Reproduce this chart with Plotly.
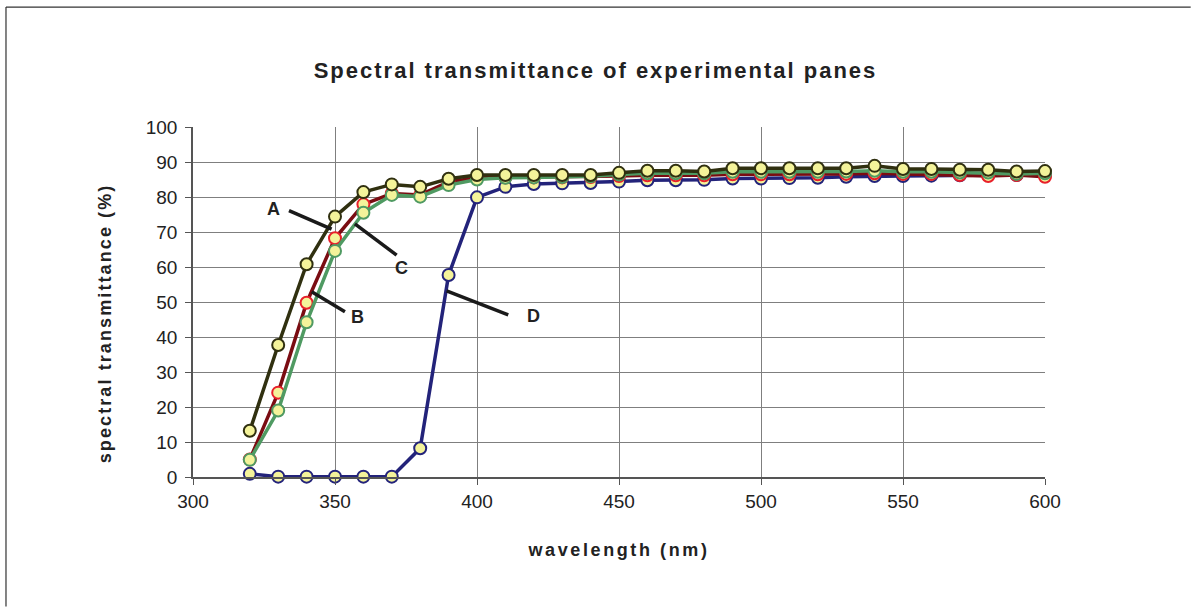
import plotly.graph_objects as go

# Wavelength grid (nm)
wavelength = [320, 330, 340, 350, 360, 370, 380, 390, 400, 410, 420, 430, 440, 450,
              460, 470, 480, 490, 500, 510, 520, 530, 540, 550, 560, 570, 580, 590, 600]

# Spectral transmittance (%) of each pane
pane_a = [13.2, 37.7, 60.8, 74.4, 81.4, 83.6, 82.9, 85.2, 86.3, 86.3, 86.3, 86.3, 86.3, 86.9,
          87.5, 87.5, 87.3, 88.2, 88.2, 88.2, 88.2, 88.2, 88.9, 88.0, 88.0, 87.8, 87.8, 87.3, 87.4]
pane_b = [5.0, 24.1, 49.8, 68.2, 77.9, 81.0, 80.6, 84.3, 85.5, 85.6, 85.6, 85.6, 85.7, 86.0,
          86.2, 86.2, 86.2, 86.5, 86.5, 86.5, 86.5, 86.6, 86.8, 86.6, 86.6, 86.3, 86.0, 86.3, 85.8]
pane_c = [4.9, 19.0, 44.2, 64.6, 75.5, 80.6, 80.1, 83.4, 85.0, 85.5, 85.6, 85.7, 85.9, 86.4,
          86.8, 86.8, 86.8, 87.2, 87.2, 87.2, 87.2, 87.3, 87.5, 87.2, 87.2, 87.0, 87.0, 86.6, 86.8]
pane_d = [0.9, 0.1, 0.1, 0.1, 0.1, 0.1, 8.2, 57.7, 79.9, 82.9, 83.7, 83.9, 84.0, 84.4,
          84.8, 84.8, 84.9, 85.3, 85.3, 85.4, 85.5, 85.8, 86.0, 86.0, 86.1, 86.2, 86.3, 86.3, 86.4]

series = [
    ("D", pane_d, "#23237a", "#23237a", 3.5),
    ("B", pane_b, "#7a0c12", "#e8202a", 3.5),
    ("C", pane_c, "#4f9a62", "#4f9a62", 3.5),
    ("A", pane_a, "#303010", "#303010", 3.5),
]

MARKER_FILL = "#f4f39a"
FONT = "Liberation Sans, Arial, sans-serif"
TEXT = "#222222"

fig = go.Figure()
for name, values, line_color, edge_color, width in series:
    fig.add_trace(go.Scatter(
        x=wavelength, y=values, name=name, mode="lines+markers",
        line=dict(color=line_color, width=width),
        marker=dict(size=12, color=MARKER_FILL, line=dict(color=edge_color, width=2)),
        cliponaxis=False,
    ))

# Leader lines and pane labels: (label, text position, line start, line end)
labels = [
    ("A", (328.5, 76.6), (333.8, 76.1), (348.8, 70.8)),
    ("B", (358.0, 45.8), (341.8, 52.9), (353.5, 47.2)),
    ("C", (373.5, 59.6), (357.0, 72.3), (371.7, 63.4)),
    ("D", (419.8, 46.0), (389.3, 53.2), (411.0, 46.3)),
]
for text, (tx, ty), (x0, y0), (x1, y1) in labels:
    fig.add_shape(type="line", x0=x0, y0=y0, x1=x1, y1=y1, xref="x", yref="y",
                  line=dict(color="#1a1a1a", width=3.5))
    fig.add_annotation(x=tx, y=ty, text=f"<b>{text}</b>", showarrow=False,
                       font=dict(family=FONT, size=18, color=TEXT))

# Y-axis title placed as a rotated annotation
fig.add_annotation(x=-0.1033, y=0.44, xref="paper", yref="paper",
                   text="<b>spectral transmittance (%)</b>", textangle=-90,
                   showarrow=False, xanchor="center", yanchor="middle",
                   font=dict(family=FONT, size=18, color=TEXT))

# Blank strip along the right page edge (below the top frame edge)
fig.add_shape(type="rect", xref="paper", yref="paper",
              x0=1.1585, x1=1.175, y0=-0.38, y1=1.336,
              line=dict(width=0), fillcolor="white", layer="above")
# Chart-area frame: left and top edges (right and bottom run off the page)
frame = dict(color="#333333", width=1.2)
fig.add_shape(type="line", xref="paper", yref="paper",
              x0=-0.2195, x1=-0.2195, y0=-0.37, y1=1.3427, line=frame, layer="above")
fig.add_shape(type="line", xref="paper", yref="paper",
              x0=-0.2195, x1=1.171, y0=1.3427, y1=1.3427, line=frame, layer="above")

fig.update_layout(
    width=1191, height=608,
    margin=dict(l=193, r=146, t=127, b=131),
    paper_bgcolor="white", plot_bgcolor="white",
    showlegend=False,
    font=dict(family=FONT, color=TEXT),
    title=dict(text="<b>Spectral transmittance of experimental panes</b>",
               x=0.5, xref="container", xanchor="center",
               y=1 - 70 / 608, yanchor="middle",
               font=dict(family=FONT, size=22, color=TEXT)),
)

fig.update_xaxes(
    range=[300, 600], tickmode="linear", tick0=300, dtick=50,
    showgrid=True, gridcolor="#7f7f7f", gridwidth=1,
    showline=True, linecolor="#555555", linewidth=1.5,
    ticks="outside", ticklen=6, tickcolor="#555555",
    tickfont=dict(family=FONT, size=19, color=TEXT),
    zeroline=False,
    title=dict(text="<b>wavelength (nm)</b>", standoff=33,
               font=dict(family=FONT, size=18, color=TEXT)),
)
fig.update_yaxes(
    range=[0, 100], tickmode="linear", tick0=0, dtick=10,
    showgrid=True, gridcolor="#7f7f7f", gridwidth=1,
    showline=True, linecolor="#555555", linewidth=1.5,
    ticks="outside", ticklen=6, tickcolor="#555555",
    tickfont=dict(family=FONT, size=19, color=TEXT),
    ticklabelstandoff=4,
    zeroline=False,
)

# Wider letter spacing on the chart title, x-axis title and y-axis title annotation
spacing_js = """
var gd = document.getElementsByClassName('plotly-graph-div')[0];
function spaceTitles() {
  var rules = [['.gtitle', '2px'], ['.xtitle', '2.6px'],
               ['g.annotation[data-index="4"] text', '2.1px']];
  rules.forEach(function (r) {
    gd.querySelectorAll(r[0]).forEach(function (el) { el.style.letterSpacing = r[1]; });
  });
}
spaceTitles();
gd.on('plotly_afterplot', spaceTitles);
"""

fig.write_html("out.html", post_script=spacing_js)
